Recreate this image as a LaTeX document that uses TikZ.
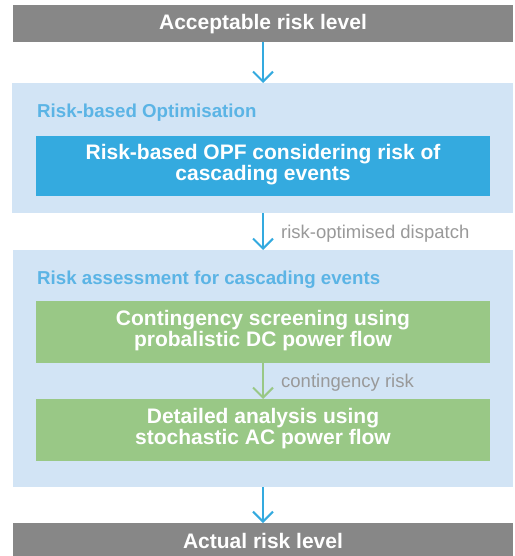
\documentclass[tikz,border=0pt]{standalone}
\usepackage{fontspec}
\setmainfont{Liberation Sans}
\usetikzlibrary{arrows.meta}
\definecolor{bargray}{HTML}{878787}
\definecolor{panelblue}{HTML}{D2E4F5}
\definecolor{boxblue}{HTML}{34AADF}
\definecolor{boxgreen}{HTML}{99C886}
\definecolor{labelblue}{HTML}{5BB4E5}
\definecolor{labelgray}{HTML}{999999}
\begin{document}
\begin{tikzpicture}[x=1pt,y=-1pt,
  bartext/.style={text=white,anchor=base,inner sep=0pt,font=\bfseries\fontsize{21}{21}\selectfont},
  boxtext/.style={text=white,align=center,inner sep=0pt,font=\bfseries\fontsize{21}{21}\selectfont},
  paneltitle/.style={text=labelblue,anchor=base west,inner sep=0pt,font=\bfseries\fontsize{18.7}{20}\selectfont},
  arrlabel/.style={text=labelgray,anchor=base west,inner sep=0pt,font=\fontsize{18.5}{20}\selectfont},
  flow/.style={draw=boxblue,line width=2pt,-{Straight Barb[length=10pt,width=20pt,line width=2pt]}},
  gflow/.style={draw=boxgreen,line width=2pt,-{Straight Barb[length=10pt,width=20pt,line width=2pt]}}
]
\useasboundingbox (0,0) rectangle (514,556);
% top bar
\fill[bargray] (13,5) rectangle (513,42);
\node[bartext] (top) at (263,29.5) {Acceptable risk level};
\coordinate (topb) at (263,42);
% panel 1
\fill[panelblue] (12,83) rectangle (513,213);
\coordinate (p1t) at (263,83);
\coordinate (p1b) at (263,213);
\node[paneltitle] (t1) at (37,118) {Risk-based Optimisation};
\fill[boxblue] (36,136) rectangle (490,196);
\node[boxtext] (opf) at (263,164.4) {Risk-based OPF considering risk of\\cascading events};
% panel 2
\fill[panelblue] (13,250) rectangle (513,487);
\coordinate (p2t) at (263,250);
\coordinate (p2b) at (263,487);
\node[paneltitle] (t2) at (37,284) {Risk assessment for cascading events};
\fill[boxgreen] (36,301) rectangle (490,363);
\node[boxtext] (cs) at (263,330.9) {Contingency screening using\\probalistic DC power flow};
\coordinate (g1b) at (263,363);
\fill[boxgreen] (36,399) rectangle (490,461);
\node[boxtext] (da) at (263,428.4) {Detailed analysis using\\stochastic AC power flow};
\coordinate (g2t) at (263,399);
% bottom bar
\fill[bargray] (13,523) rectangle (513,556);
\node[bartext] (bot) at (263,548.3) {Actual risk level};
\coordinate (botb) at (263,523);
% arrows
\draw[flow] (topb) -- (p1t);
\draw[flow] (p1b) -- (p2t);
\node[arrlabel] (l1) at (281,238.3) {risk-optimised dispatch};
\draw[gflow] (g1b) -- (g2t);
\node[arrlabel] (l2) at (281,387.3) {contingency risk};
\draw[flow] (p2b) -- (botb);
\end{tikzpicture}
\end{document}
